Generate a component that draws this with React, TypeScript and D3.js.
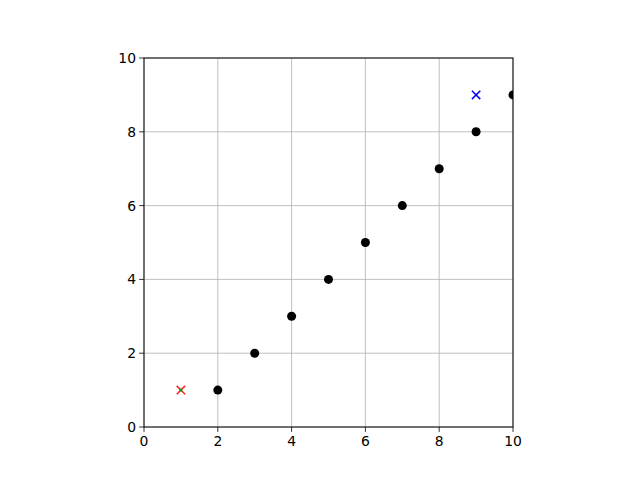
import React from "react";
import * as d3 from "d3";

const dotX = [2, 3, 4, 5, 6, 7, 8, 9, 10];
const dotY = [1, 2, 3, 4, 5, 6, 7, 8, 9];
const redX = [1];
const redY = [1];
const blueX = [9];
const blueY = [9];
const xTicks = [0, 2, 4, 6, 8, 10];
const yTicks = [0, 2, 4, 6, 8, 10];

export default function App() {
  const W = 640, H = 480;
  const left = 144, right = 513, top = 58, bottom = 427;
  const x = d3.scaleLinear().domain([0, 10]).range([left, right]);
  const y = d3.scaleLinear().domain([0, 10]).range([bottom, top]);
  const font = "DejaVu Sans, sans-serif";
  const xm = (cx: number, cy: number, color: string, key: string) => {
    const s = 4.2;
    return (
      <g key={key} stroke={color} strokeWidth={1.5}>
        <line x1={cx - s} y1={cy - s} x2={cx + s} y2={cy + s} />
        <line x1={cx - s} y1={cy + s} x2={cx + s} y2={cy - s} />
      </g>
    );
  };
  return (
    <svg width={W} height={H} style={{ position: "absolute", left: 0, top: 0 }}>
      <rect width={W} height={H} fill="white" />
      <defs>
        <clipPath id="ax">
          <rect x={left} y={top} width={right - left} height={bottom - top} />
        </clipPath>
      </defs>
      {xTicks.map((t) => (
        <line key={"gx" + t} x1={x(t)} x2={x(t)} y1={top} y2={bottom} stroke="#b0b0b0" strokeWidth={0.8} />
      ))}
      {yTicks.map((t) => (
        <line key={"gy" + t} y1={y(t)} y2={y(t)} x1={left} x2={right} stroke="#b0b0b0" strokeWidth={0.8} />
      ))}
      <g clipPath="url(#ax)">
        {dotX.map((v, i) => (
          <circle key={"d" + i} cx={x(v)} cy={y(dotY[i])} r={4.5} fill="black" />
        ))}
        {redX.map((v, i) => (
          <g key={"r" + i}>
            {xm(x(v), y(redY[i]), "#ff2020", "rx" + i)}
            <rect x={x(v) - 1.5} y={y(redY[i]) - 1.5} width={3} height={3} fill="#1a9a1a" />
          </g>
        ))}
        {blueX.map((v, i) => xm(x(v), y(blueY[i]), "#0000ff", "b" + i))}
      </g>
      <rect x={left} y={top} width={right - left} height={bottom - top} fill="none" stroke="black" strokeWidth={1} />
      {xTicks.map((t) => (
        <g key={"xt" + t}>
          <line x1={x(t)} x2={x(t)} y1={bottom} y2={bottom + 4.9} stroke="black" strokeWidth={0.8} />
          <text x={x(t)} y={bottom + 19} textAnchor="middle" fontFamily={font} fontSize={13.9} fill="black">{t}</text>
        </g>
      ))}
      {yTicks.map((t) => (
        <g key={"yt" + t}>
          <line x1={left - 4.9} x2={left} y1={y(t)} y2={y(t)} stroke="black" strokeWidth={0.8} />
          <text x={left - 8} y={y(t) + 5} textAnchor="end" fontFamily={font} fontSize={13.9} fill="black">{t}</text>
        </g>
      ))}
    </svg>
  );
}
